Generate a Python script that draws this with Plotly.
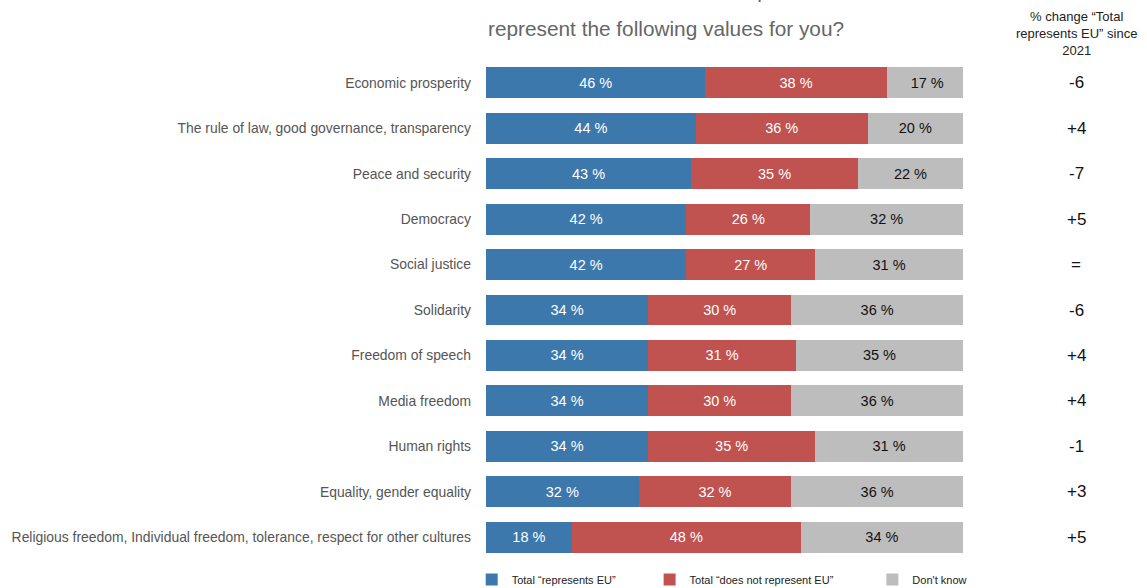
import plotly.graph_objects as go

# Survey values per item (percent)
categories = [
    "Economic prosperity",
    "The rule of law, good governance, transparency",
    "Peace and security",
    "Democracy",
    "Social justice",
    "Solidarity",
    "Freedom of speech",
    "Media freedom",
    "Human rights",
    "Equality, gender equality",
    "Religious freedom, Individual freedom, tolerance, respect for other cultures",
]
represents = [46, 44, 43, 42, 42, 34, 34, 34, 34, 32, 18]
not_represents = [38, 36, 35, 26, 27, 30, 31, 30, 35, 32, 48]
dont_know = [17, 20, 22, 32, 31, 36, 35, 36, 31, 36, 34]
change_since_2021 = ["-6", "+4", "-7", "+5", "=", "-6", "+4", "+4", "-1", "+3", "+5"]

series_names = ["Total “represents EU”", "Total “does not represent EU”", "Don't know"]
colors = ["#3d78ad", "#c0524f", "#bdbdbd"]
text_colors = ["white", "white", "#111111"]

FONT = "Liberation Sans, Arial, Helvetica, sans-serif"

fig = go.Figure()
for i, (name, vals) in enumerate(zip(series_names, [represents, not_represents, dont_know])):
    fig.add_trace(go.Bar(
        y=categories,
        x=vals,
        name=name,
        orientation="h",
        marker=dict(color=colors[i], line=dict(width=0)),
        texttemplate="%{x} %",
        textposition="inside",
        insidetextanchor="middle",
        textfont=dict(family=FONT, size=14.5, color=text_colors[i]),
        hoverinfo="skip",
        legend="legend" if i == 0 else f"legend{i + 1}",
    ))

legend_common = dict(
    orientation="h",
    yref="paper",
    y=-0.01,
    yanchor="top",
    xanchor="left",
    font=dict(family=FONT, size=11, color="#222222"),
    bgcolor="rgba(0,0,0,0)",
    itemwidth=30,
)

fig.update_layout(
    width=1147,
    height=588,
    margin=dict(l=486, r=184, t=60, b=28, autoexpand=False),
    barmode="stack",
    bargap=0.32,
    plot_bgcolor="white",
    paper_bgcolor="white",
    showlegend=True,
    legend=dict(x=-0.03, **legend_common),
    legend2=dict(x=0.343, **legend_common),
    legend3=dict(x=0.81, **legend_common),
    xaxis=dict(range=[0, 100], visible=False, fixedrange=True),
    yaxis=dict(
        autorange="reversed",
        showgrid=False,
        showline=False,
        zeroline=False,
        ticks="",
        ticklabelstandoff=14,
        tickfont=dict(family=FONT, size=13.9, color="#555555"),
    ),
)

# Question title (first line runs off the top edge)
fig.add_annotation(
    text="To what extent does the European Union",
    xref="paper", yref="paper", x=0, y=1.14,
    xanchor="left", yanchor="middle", showarrow=False,
    font=dict(family=FONT, size=20.8, color="#666666"),
)
fig.add_annotation(
    text="represent the following values for you?",
    xref="paper", yref="paper", x=0, y=1.062,
    xanchor="left", yanchor="middle", showarrow=False,
    font=dict(family=FONT, size=20.8, color="#666666"),
)

# Right-hand column: change since 2021
fig.add_annotation(
    text="% change “Total<br>represents EU” since<br>2021",
    xref="paper", yref="paper", x=1.237, y=1.052,
    xanchor="center", yanchor="middle", showarrow=False, align="center",
    font=dict(family=FONT, size=13, color="#222222"),
)
for cat, chg in zip(categories, change_since_2021):
    fig.add_annotation(
        text=chg, xref="paper", yref="y", x=1.237, y=cat,
        xanchor="center", yanchor="middle", showarrow=False,
        font=dict(family=FONT, size=17, color="#111111"),
    )

fig.write_html("out.html")
